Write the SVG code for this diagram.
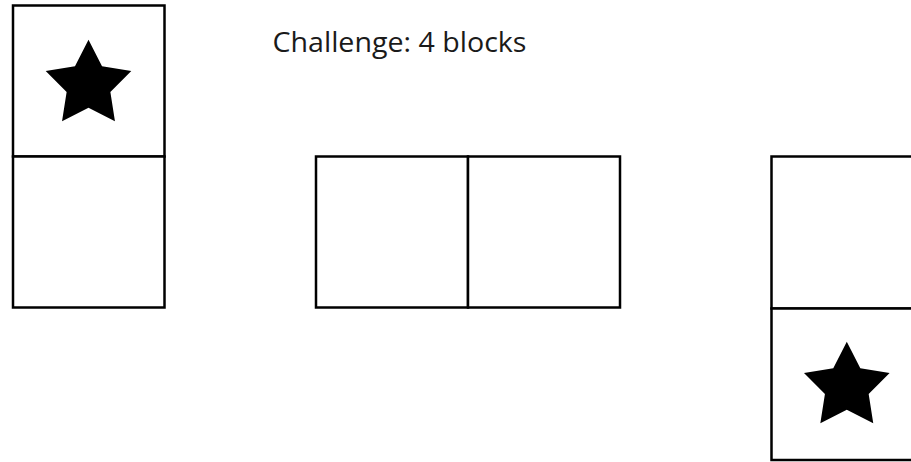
<svg xmlns="http://www.w3.org/2000/svg" xmlns:xlink="http://www.w3.org/1999/xlink" width="911" height="462" viewBox="0 0 911 462">
  <style>
    .cell { fill: #ffffff; stroke: #000000; stroke-width: 2.5; }
    .star { fill: #000000; }
    .title { font-family: "Open Sans", "Liberation Sans", sans-serif; font-size: 26.5px; fill: #1a1a1a; }
  </style>
  <defs>
    <path id="star" class="star" d="M0,-45 L13.52,-18.61 L42.8,-13.91 L21.87,7.11 L26.45,36.41 L0,23 L-26.45,36.41 L-21.87,7.11 L-42.8,-13.91 L-13.52,-18.61 Z"/>
  </defs>
  <rect width="911" height="462" fill="#ffffff"/>
  <g id="title">
    <text class="title" x="272.5" y="51.5" textLength="254" lengthAdjust="spacingAndGlyphs">Challenge: 4 blocks</text>
  </g>
  <g id="block-left">
    <rect class="cell" x="13" y="5.5" width="151.5" height="151"/>
    <rect class="cell" x="13" y="156.5" width="151.5" height="151"/>
    <use xlink:href="#star" href="#star" transform="translate(88.5,84.8)"/>
  </g>
  <g id="block-middle">
    <rect class="cell" x="316" y="156.5" width="152" height="151"/>
    <rect class="cell" x="468" y="156.5" width="152" height="151"/>
  </g>
  <g id="block-right">
    <rect class="cell" x="771.5" y="156.5" width="152" height="152"/>
    <rect class="cell" x="771.5" y="308.5" width="152" height="151.5"/>
    <use xlink:href="#star" href="#star" transform="translate(846.8,386.8)"/>
  </g>
  <g id="connectors"></g>
</svg>
